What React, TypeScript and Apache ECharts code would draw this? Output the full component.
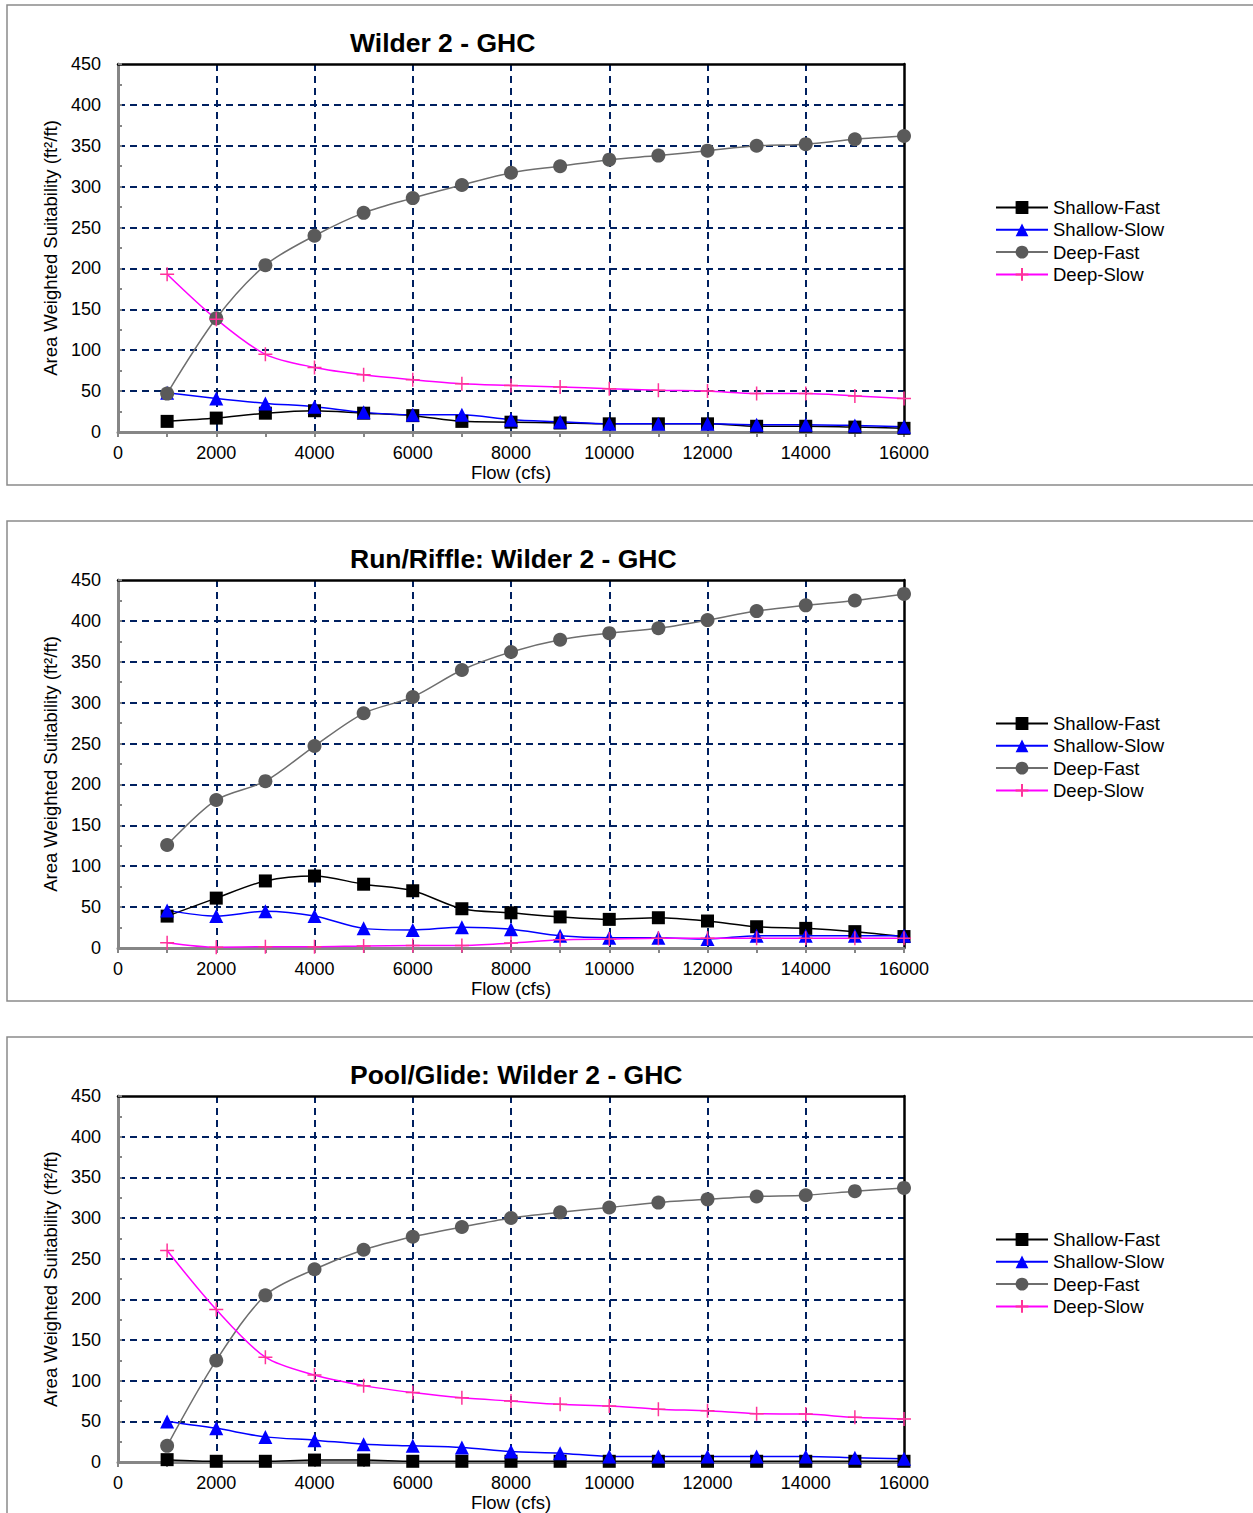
import React, { useEffect, useRef } from "react";
import * as echarts from "echarts";

const flows = [1000, 2000, 3000, 4000, 5000, 6000, 7000, 8000, 9000, 10000, 11000, 12000, 13000, 14000, 15000, 16000];
const xTicks = [0, 2000, 4000, 6000, 8000, 10000, 12000, 14000, 16000];
const yTicks = [0, 50, 100, 150, 200, 250, 300, 350, 400, 450];

const titles = ["Wilder 2 - GHC", "Run/Riffle: Wilder 2 - GHC", "Pool/Glide: Wilder 2 - GHC"];
const seriesNames = ["Shallow-Fast", "Shallow-Slow", "Deep-Fast", "Deep-Slow"];

// Chart 1: Wilder 2 - GHC
const allShallowFast = [13, 17, 23, 26, 23, 20, 13, 12, 11, 10, 10, 10, 7, 7, 6, 4.5];
const allShallowSlow = [48, 41, 35, 31, 24, 21, 21, 15, 12.5, 10, 10, 10, 9, 9, 8, 6.5];
const allDeepFast = [47, 139, 204, 240, 268, 286, 302, 317, 325, 333, 338, 344, 350, 352, 358, 362];
const allDeepSlow = [193, 138, 95, 79, 70, 64, 59, 57, 55, 53, 51, 50, 47, 47, 44, 41];

// Chart 2: Run/Riffle
const runShallowFast = [39, 61, 82, 88, 78, 70, 48, 43, 38, 35, 37, 33, 26, 24, 20, 14];
const runShallowSlow = [46, 39, 45, 39, 24, 22, 25.5, 23, 15, 12.5, 12.5, 11, 15, 15, 15, 15];
const runDeepFast = [126, 181, 204, 247, 287, 307, 340, 362, 377, 385, 391, 401, 412, 419, 425, 433];
const runDeepSlow = [6.5, 1, 1.5, 1.5, 2.5, 3, 3, 6, 10, 11, 12, 12, 12, 12, 12, 12];

// Chart 3: Pool/Glide
const poolShallowFast = [3, 1, 1, 2.5, 2.5, 1, 1, 1, 1, 1, 1, 1, 1, 1, 1, 1];
const poolShallowSlow = [50, 41.5, 31, 27, 22, 20, 18, 13, 11, 7, 7, 7, 7, 7, 5.5, 4];
const poolDeepFast = [20, 125, 205, 237, 261, 277, 289, 300, 307, 313, 319, 323, 326.5, 328, 333, 337];
const poolDeepSlow = [260, 187.5, 129, 107, 94, 85.5, 79, 75, 71, 69, 65, 63, 59.5, 59, 55, 53];

const chartData = [
  [allShallowFast, allShallowSlow, allDeepFast, allDeepSlow],
  [runShallowFast, runShallowSlow, runDeepFast, runDeepSlow],
  [poolShallowFast, poolShallowSlow, poolDeepFast, poolDeepSlow],
];

const FONT = "'Liberation Sans', Arial, sans-serif";
const GRID_COLOR = "#002060";
const AXIS_GREY = "#868686";

const seriesStyles = [
  { symbol: "rect", symbolSize: 13, line: "#000000", marker: "#000000" },
  { symbol: "triangle", symbolSize: 14, line: "#0000FF", marker: "#0000FF" },
  { symbol: "circle", symbolSize: 14, line: "#6e6e6e", marker: "#5a5a5a" },
  { symbol: "path://M0,5H10M5,0V10", symbolSize: 14, line: "#FF00FF", marker: "#FF3399" },
];

export default function App() {
  const ref = useRef<HTMLDivElement>(null);

  useEffect(() => {
    document.body.style.margin = "0";
    if (!ref.current) return;
    const chart = echarts.init(ref.current, null, { renderer: "svg" });

    const OFFSET = 516;
    const grids: any[] = [];
    const xAxes: any[] = [];
    const yAxes: any[] = [];
    const series: any[] = [];
    const title: any[] = [];
    const legend: any[] = [];
    const graphic: any[] = [];

    for (let k = 0; k < 3; k++) {
      const top = 64 + OFFSET * k;
      grids.push({ left: 118, top, width: 786, height: 368, containLabel: false });

      graphic.push({
        type: "rect",
        shape: { x: 7, y: 5 + OFFSET * k, width: 1270, height: 480 },
        style: { fill: "none", stroke: "#8a8a8a", lineWidth: 1.5 },
        silent: true,
        z: -10,
      });

      title.push({
        text: titles[k],
        left: 350,
        top: 29 + OFFSET * k,
        padding: 0,
        textStyle: { fontFamily: FONT, fontSize: 26.5, fontWeight: "bold", color: "#000" },
      });

      legend.push({
        orient: "vertical",
        left: 995,
        top: 198 + OFFSET * k,
        itemWidth: 52,
        itemHeight: 16,
        itemGap: 3.3,
        padding: 0,
        data: seriesNames,
        textStyle: { fontFamily: FONT, fontSize: 18.5, color: "#000" },
      });

      // bottom x axis
      xAxes.push({
        gridIndex: k,
        type: "value",
        min: xTicks[0],
        max: xTicks[xTicks.length - 1],
        interval: xTicks[1] - xTicks[0],
        position: "bottom",
        name: "Flow (cfs)",
        nameLocation: "middle",
        nameGap: 26,
        nameTextStyle: { fontFamily: FONT, fontSize: 18.5, color: "#000" },
        axisLine: { show: true, onZero: false, lineStyle: { color: AXIS_GREY, width: 3 } },
        axisTick: { show: true, inside: false, length: 5, lineStyle: { color: AXIS_GREY, width: 2 } },
        minorTick: { show: true, splitNumber: 2, length: 5, lineStyle: { color: AXIS_GREY, width: 2 } },
        axisLabel: {
          fontFamily: FONT,
          fontSize: 18,
          color: "#000",
          margin: 12,
          formatter: (v: number) => String(v),
        },
        splitLine: {
          show: true,
          showMinLine: false,
          showMaxLine: false,
          lineStyle: { color: GRID_COLOR, width: 2, type: [7, 5] },
        },
      });
      // top border axis
      xAxes.push({
        gridIndex: k,
        type: "value",
        min: 0,
        max: 16000,
        position: "top",
        axisLine: { show: true, onZero: false, lineStyle: { color: "#000", width: 2.5 } },
        axisTick: { show: false },
        axisLabel: { show: false },
        splitLine: { show: false },
      });

      // left y axis
      yAxes.push({
        gridIndex: k,
        type: "value",
        min: yTicks[0],
        max: yTicks[yTicks.length - 1],
        interval: yTicks[1] - yTicks[0],
        position: "left",
        name: "Area Weighted Suitability (ft²/ft)",
        nameLocation: "middle",
        nameGap: 56,
        nameTextStyle: { fontFamily: FONT, fontSize: 18.5, color: "#000" },
        axisLine: { show: true, onZero: false, lineStyle: { color: AXIS_GREY, width: 3 } },
        axisTick: { show: true, inside: true, length: 4, lineStyle: { color: AXIS_GREY, width: 2 } },
        minorTick: { show: true, splitNumber: 2, length: 4, lineStyle: { color: AXIS_GREY, width: 2 } },
        axisLabel: { fontFamily: FONT, fontSize: 18, color: "#000", margin: 17 },
        splitLine: {
          show: true,
          showMinLine: false,
          showMaxLine: false,
          lineStyle: { color: GRID_COLOR, width: 2, type: [7, 5] },
        },
      });
      // right border axis
      yAxes.push({
        gridIndex: k,
        type: "value",
        min: 0,
        max: 450,
        position: "right",
        axisLine: { show: true, onZero: false, lineStyle: { color: "#000", width: 2.5 } },
        axisTick: { show: false },
        axisLabel: { show: false },
        splitLine: { show: false },
      });

      for (let s = 0; s < 4; s++) {
        const st = seriesStyles[s];
        series.push({
          name: seriesNames[s],
          type: "line",
          xAxisIndex: k * 2,
          yAxisIndex: k * 2,
          data: flows.map((f, i) => [f, chartData[k][s][i]]),
          smooth: 0.3,
          symbol: st.symbol,
          symbolSize: st.symbolSize,
          showAllSymbol: true,
          lineStyle: { color: st.line, width: 1.5 },
          itemStyle:
            s === 3
              ? { color: st.marker, borderColor: st.marker, borderWidth: 1.5 }
              : { color: st.marker, borderColor: st.marker, borderWidth: 0 },
          emphasis: { disabled: true },
        });
      }
    }

    chart.setOption({
      animation: false,
      backgroundColor: "#fff",
      textStyle: { fontFamily: FONT },
      title,
      legend,
      grid: grids,
      xAxis: xAxes,
      yAxis: yAxes,
      series,
      graphic,
    });

    return () => chart.dispose();
  }, []);

  return <div ref={ref} style={{ width: 1253, height: 1513 }} />;
}
